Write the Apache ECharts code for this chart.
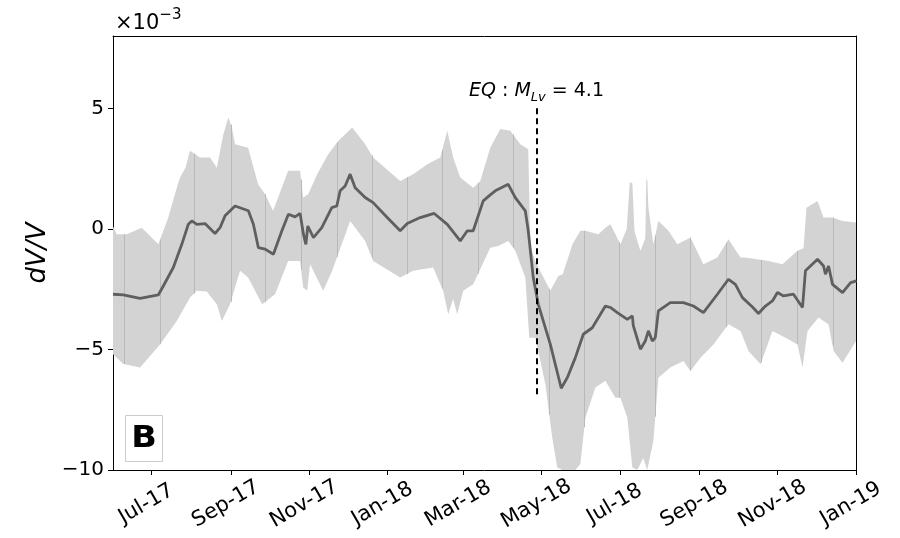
<!DOCTYPE html>
<html><head><meta charset="utf-8">
<script src="https://cdn.jsdelivr.net/npm/echarts@6/dist/echarts.min.js"></script>
<style>html,body{margin:0;padding:0;background:#fff}#c{width:900px;height:538px}</style>
</head><body><div id="c"></div>
<script>
// ---- data (x = days after 2017-06-01, y = dV/V in units of 1e-3) ----
const meanDays = [0,8,21.1,35.3,39.2,47,53.6,58.7,61.4,65.3,71.7,79.5,83.4,87.3,95.1,105.5,109.4,113.3,118.5,125,131.6,136.7,141.9,145.8,148.4,150.3,151.8,156.2,162.7,170.5,174.4,177,180.9,184.8,188.7,196.5,202.7,213.7,223.8,229.3,239.4,250.3,260.5,270.6,276.1,280.7,288.5,294,297.9,308,313.5,321.3,323.6,327.5,331.4,340.8,349.3,354,360.3,366.5,373.5,383.7,387.6,393,400.8,404.7,405.5,411,414.8,417.2,420.3,422.6,425,434.3,444.5,452.3,460.1,471,479.6,485,490.5,498.3,503,508.4,513.9,517.8,522.5,530.3,537.3,539.6,549,553.7,555.2,557.6,560.7,568.5,574.8,579.4];
const meanValues = [-2.71,-2.74,-2.88,-2.74,-2.37,-1.6,-0.64,0.19,0.33,0.19,0.22,-0.19,0.05,0.54,0.95,0.75,0.19,-0.78,-0.84,-1.05,-0.08,0.61,0.5,0.64,-0.22,-0.64,0.12,-0.36,0.05,0.88,0.95,1.58,1.78,2.27,1.71,1.3,1.09,0.47,-0.08,0.22,0.47,0.64,0.19,-0.5,-0.08,-0.08,1.16,1.41,1.58,1.85,1.3,0.75,-0.08,-2.02,-3.13,-4.79,-6.61,-6.17,-5.34,-4.37,-4.1,-3.2,-3.26,-3.47,-3.75,-3.61,-4.02,-4.99,-4.65,-4.23,-4.65,-4.51,-3.4,-3.06,-3.06,-3.2,-3.47,-2.71,-2.09,-2.3,-2.85,-3.24,-3.51,-3.2,-2.99,-2.64,-2.78,-2.71,-3.26,-1.74,-1.26,-1.54,-1.88,-1.54,-2.3,-2.64,-2.23,-2.16];

const upperDays = [0,2.9,10.7,22.4,35.3,43.1,49.7,52.2,56.5,60,67.8,75.6,80.9,86,89.9,92.6,95.1,105.3,113.1,118.5,124.8,136.5,145.8,148.2,152.1,159.1,167.7,175.5,186.4,196.5,202.7,223.8,233.9,244.9,255,260.5,265.1,270.6,280.7,286.2,294,301.8,309.6,317.4,323.6,325.2,328.9,340.8,347,350.5,358,364.2,368.1,378.3,383.7,387.6,395.4,400.3,402.7,404.7,406.3,407,411,414.8,415.6,416.4,417.2,421.1,425,432.8,439.8,450,460.1,471,479.6,489,492.8,510.8,521.7,533.4,538.1,540.4,549,553.7,560.7,568.5,579.4];
const upperValues = [0.1,-0.22,-0.22,0.05,-0.64,0.47,1.71,2.13,2.54,3.24,2.96,2.96,2.54,3.93,4.62,4.2,3.51,3.37,1.85,1.44,0.75,2.41,2.41,1.3,1.44,2.27,3.1,3.65,4.2,3.51,2.96,1.99,2.27,2.68,2.96,4.07,2.96,2.13,1.71,1.99,3.37,4.14,4.07,3.51,3.3,-0.7,-1.33,-2.57,-1.95,-1.88,-0.64,-0.08,-0.08,-0.22,0.05,0.19,-0.64,0.0,1.92,1.9,0.0,-0.22,-0.91,-0.4,2.1,2.0,0.9,-0.64,0.33,-0.08,-0.64,-0.36,-1.47,-1.19,-0.43,-1.19,-1.19,-1.33,-1.47,-0.91,-0.8,0.88,1.16,0.47,0.47,0.33,0.26];

const lowerDays = [0,8,21.1,36.6,49.7,60,65.3,73.1,80.9,84.8,91.2,99,105.3,116.2,126.3,136.5,145.8,148.2,151.3,153.6,163.8,170.8,184.8,196.5,202.7,223.8,233.9,249.5,257.3,261.2,265.1,268.2,272.9,280.7,294,300.2,308,313.5,321.3,324.4,329.1,336.9,342.3,346.2,350.1,360.3,364.2,368.1,375.9,383.7,391.5,395.4,400.8,404.7,408.6,413.2,416.3,421.1,425,434.3,444.5,450,457.8,467.9,479.6,489,495.2,504.6,513.9,524.1,533.4,537.3,541.2,549.8,557.6,561.5,568.5,579.4];
const lowerValues = [-5.2,-5.6,-5.75,-4.79,-3.82,-2.85,-2.57,-2.6,-3.13,-3.82,-3.13,-1.74,-2.02,-3.13,-2.71,-1.33,-1.33,-2.43,-2.57,-1.47,-2.57,-1.74,0.33,-0.5,-1.33,-2.02,-1.74,-1.6,-2.57,-3.54,-2.9,-3.54,-2.57,-2.3,-0.78,-0.71,-0.5,-0.91,-2.02,-4.51,-4.51,-6.43,-8.66,-9.9,-10.6,-10.8,-9.75,-7.83,-6.58,-6.3,-7,-7,-7.83,-9.9,-10.5,-9.5,-10.5,-8.8,-6.17,-5.75,-5.48,-5.89,-5.34,-4.79,-3.95,-4.23,-5.06,-5.61,-4.23,-4.51,-4.79,-5.75,-4.23,-3.68,-3.95,-5.06,-5.55,-4.65];

const seamDays = [8.6,36.7,63.2,91.8,118.5,146.6,174.7,201.7,229.3,256.6,284.6,311.7,340,367.3,394.6,422.6,450,478,505.1,533.1,560.7];

const eqDate = '2018-04-27';
const eqTop = 5, eqBottom = -7;

const tickDates = ['2017-07-01','2017-09-01','2017-11-01','2018-01-01','2018-03-01','2018-05-01','2018-07-01','2018-09-01','2018-11-01','2019-01-01'];
const tickLabels = ['Jul-17','Sep-17','Nov-17','Jan-18','Mar-18','May-18','Jul-18','Sep-18','Nov-18','Jan-19'];
const yTicks = [-10,-5,0,5];
const yMin = -10, yMax = 8;
const xStart = '2017-06-01', xEnd = '2019-01-01';

// ---- build ----
const DAY = 86400000;
const T0 = Date.parse(xStart);
const T1 = Date.parse(xEnd);
const toT = d => T0 + d * DAY;
const pairs = (days, vals) => days.map((d, i) => [toT(d), vals[i]]);
const meanData = pairs(meanDays, meanValues);
const upperData = pairs(upperDays, upperValues);
const lowerData = pairs(lowerDays, lowerValues);
const tickTs = tickDates.map(s => Date.parse(s));
const eqTs = Date.parse(eqDate);
const FONT = 'DejaVu Sans';

function interpY(pts, x) {
  for (let i = 0; i < pts.length - 1; i++) {
    if (x >= pts[i][0] && x <= pts[i + 1][0]) {
      const f = (x - pts[i][0]) / (pts[i + 1][0] - pts[i][0] || 1);
      return pts[i][1] + f * (pts[i + 1][1] - pts[i][1]);
    }
  }
  return pts[pts.length - 1][1];
}

const chart = echarts.init(document.getElementById('c'), null, {renderer: 'canvas'});
const fmtMinus = v => String(v).replace('-', '\u2212');

chart.setOption({
  animation: false,
  backgroundColor: '#fff',
  textStyle: {fontFamily: FONT},
  grid: {left: 113, right: 44, top: 36, bottom: 68},
  xAxis: [{
    type: 'value', min: T0, max: T1, scale: true,
    axisLine: {show: true, onZero: false, lineStyle: {color: '#000', width: 1}},
    axisTick: {show: true, customValues: tickTs, length: 5, lineStyle: {color: '#000'}},
    axisLabel: {
      customValues: tickTs, rotate: 30, fontSize: 21, color: '#000', fontFamily: FONT,
      align: 'center', verticalAlign: 'middle', margin: 31, padding: [0, 12, 0, 0],
      showMinLabel: true, showMaxLabel: true, hideOverlap: false,
      formatter: v => { const i = tickTs.findIndex(t => Math.abs(t - v) < DAY); return i >= 0 ? tickLabels[i] : ''; }
    },
    splitLine: {show: false}
  }, {
    type: 'value', position: 'top', min: T0, max: T1, scale: true,
    axisLine: {show: true, onZero: false, lineStyle: {color: '#000', width: 1}},
    axisTick: {show: false}, axisLabel: {show: false}, splitLine: {show: false}
  }],
  yAxis: [{
    type: 'value', min: yMin, max: yMax,
    name: 'dV/V', nameLocation: 'middle', nameGap: 60,
    nameTextStyle: {fontSize: 26, fontStyle: 'italic', color: '#000', fontFamily: FONT},
    axisLine: {show: true, onZero: false, lineStyle: {color: '#000', width: 1}},
    axisTick: {show: true, customValues: yTicks, length: 5, lineStyle: {color: '#000'}},
    axisLabel: {customValues: yTicks, fontSize: 20, color: '#000', margin: 9, formatter: fmtMinus},
    splitLine: {show: false}
  }, {
    type: 'value', position: 'right', min: yMin, max: yMax,
    axisLine: {show: true, onZero: false, lineStyle: {color: '#000', width: 1}},
    axisTick: {show: false}, axisLabel: {show: false}, splitLine: {show: false}
  }],
  graphic: [
    {type: 'text', left: 115, top: 8, z: 10, style: {
      text: '{a|\u00d710}{b|\u22123}', fontFamily: FONT,
      rich: {a: {fontSize: 21, fill: '#000', verticalAlign: 'bottom', lineHeight: 26, fontFamily: FONT},
             b: {fontSize: 15, fill: '#000', verticalAlign: 'top', fontFamily: FONT}}
    }},
    {type: 'group', left: 125, top: 415, z: 10, children: [
      {type: 'rect', shape: {x: 0.5, y: 0.5, width: 37, height: 46}, style: {fill: '#fff', stroke: '#cccccc', lineWidth: 1}},
      {type: 'text', x: 19, y: 24, scaleX: 1.12, style: {text: 'B', fontSize: 30, fontWeight: 'bold', fontFamily: FONT, fill: '#000', align: 'center', verticalAlign: 'middle'}}
    ]}
  ],
  series: [
    {
      type: 'custom', coordinateSystem: 'cartesian2d', silent: true, z: 1,
      data: [[T0, 0]],
      renderItem: (params, api) => {
        const cs = params.coordSys;
        const clampP = p => [Math.min(Math.max(p[0], cs.x), cs.x + cs.width), Math.min(Math.max(p[1], cs.y), cs.y + cs.height)];
        const pts = [];
        upperData.forEach(d => pts.push(clampP(api.coord(d))));
        for (let i = lowerData.length - 1; i >= 0; i--) pts.push(clampP(api.coord(lowerData[i])));
        const children = [{type: 'polygon', shape: {points: pts}, style: {fill: '#d3d3d3', stroke: null}}];
        seamDays.forEach(sd => {
          const t = toT(sd);
          const a = clampP(api.coord([t, interpY(upperData, t)]));
          const b = clampP(api.coord([t, interpY(lowerData, t)]));
          children.push({type: 'line', shape: {x1: Math.round(a[0]) + 0.5, y1: a[1], x2: Math.round(a[0]) + 0.5, y2: b[1]}, style: {stroke: '#b9b9b9', lineWidth: 1}});
        });
        return {type: 'group', children};
      }
    },
    {
      type: 'line', data: meanData, showSymbol: false, z: 3,
      lineStyle: {color: '#5f5f5f', width: 2.8}, itemStyle: {color: '#5f5f5f'},
      markLine: {
        silent: true, symbol: ['none', 'none'], animation: false,
        lineStyle: {type: [6, 4], color: '#000', width: 2},
        label: {
          show: true, position: 'start', distance: 4,
          formatter: '{i|EQ}{n| : }{i|M}{s|Lv}{n| = 4.1}',
          rich: {
            i: {fontSize: 19, fontStyle: 'italic', color: '#000', fontFamily: FONT, lineHeight: 26, verticalAlign: 'middle'},
            n: {fontSize: 19, color: '#000', fontFamily: FONT, lineHeight: 26, verticalAlign: 'middle'},
            s: {fontSize: 13, fontStyle: 'italic', color: '#000', fontFamily: FONT, verticalAlign: 'bottom'}
          }
        },
        data: [[{coord: [eqTs, eqTop]}, {coord: [eqTs, eqBottom]}]]
      }
    }
  ]
});
</script></body></html>
